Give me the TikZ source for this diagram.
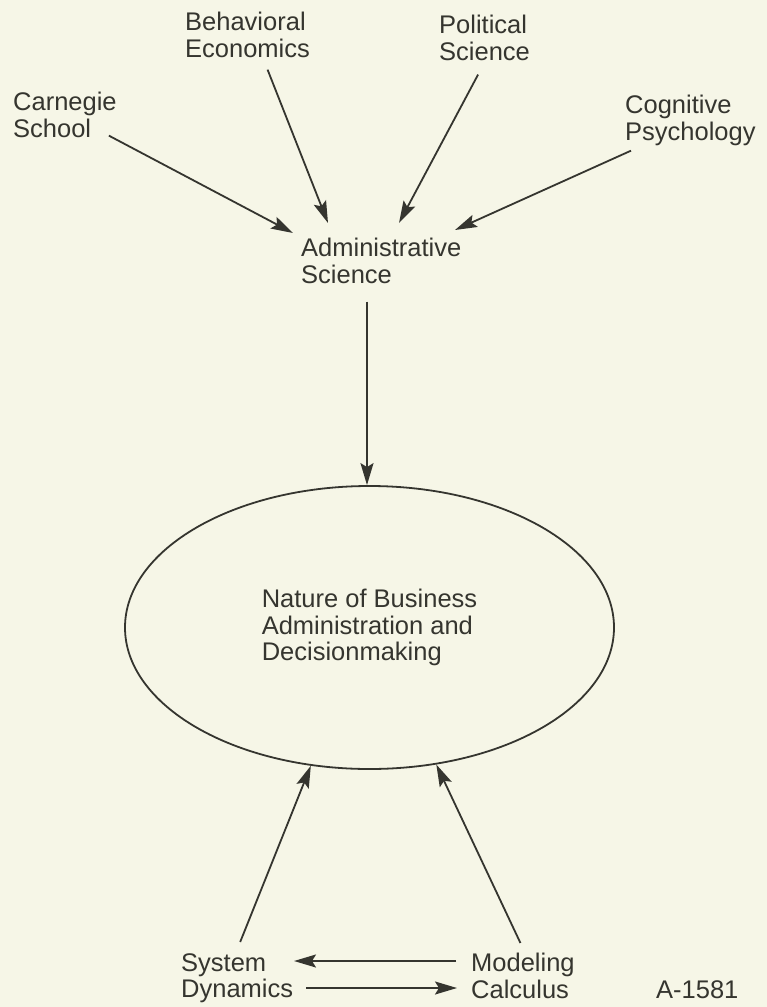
\documentclass[tikz,border=0pt]{standalone}
\usepackage{fontspec}
\setmainfont{Liberation Sans}
\usepackage{xcolor}
\definecolor{inkDark}{HTML}{35352F}
\definecolor{paperBg}{HTML}{F6F6E7}
\usepackage{tikz}
\usetikzlibrary{shapes.geometric,arrows.meta,calc}
\tikzset{%
  fieldLabel/.style={%
    anchor=north west,
    inner sep=0pt,
    align=left,
    text=inkDark,
    font=\fontsize{25.5}{26.5}\selectfont
  },
  arrowLine/.style={%
    -{Stealth[length=22pt,width=13pt,inset=4pt]},
    line width=1.8pt,
    color=inkDark
  },
  centralEllipse/.style={%
    ellipse,
    draw=inkDark,
    line width=1.8pt,
    minimum width=489pt,
    minimum height=283pt,
    inner sep=0pt,
    align=left,
    text=inkDark,
    font=\fontsize{25.5}{26.5}\selectfont
  }
}

\begin{document}
\begin{tikzpicture}[x=1pt,y=-1pt]
  \fill[paperBg] (0,0) rectangle (767,1007);
  \useasboundingbox (0,0) rectangle (767,1007);

  % source fields
  \node[fieldLabel] (carnegie) at (13,92) {Carnegie\\School};
  \node[fieldLabel] (behavioral) at (185,12) {Behavioral\\Economics};
  \node[fieldLabel] (political) at (439,15) {Political\\Science};
  \node[fieldLabel] (cognitive) at (625,95) {Cognitive\\Psychology};
  \node[fieldLabel] (admin) at (301,238) {Administrative\\Science};

  \node[centralEllipse] (nature) at (369.5,627.5) {Nature of Business\\Administration and\\Decisionmaking};

  \node[fieldLabel] (system) at (181,953) {System\\Dynamics};
  \node[fieldLabel] (modeling) at (471,953) {Modeling\\Calculus};
  \node[fieldLabel] (figId) at (656,980) {A-1581};

  % into administrative science
  \draw[arrowLine] ($(carnegie.south east)+(-8,-2)$) -- ($(admin.north west)+(-8,-5)$);
  \draw[arrowLine] ($(behavioral.south)+(20,12)$) -- ($(admin.north west)+(27,-15)$);
  \draw[arrowLine] ($(political.south)+(-6.5,14)$) -- ($(admin.north west)+(98,-15)$);
  \draw[arrowLine] ($(cognitive.south west)+(6,5)$) -- ($(admin.north west)+(154,-8)$);

  % into the ellipse
  \draw[arrowLine] ($(admin.south west)+(66,18)$) coordinate (adminOut) -- (adminOut |- nature.north);
  \draw[arrowLine] ($(system.north)+(3,-11)$) -- (nature.247.7);
  \draw[arrowLine] ($(modeling.north)+(-2.5,-10)$) -- (nature.296);

  % between the two methods
  \draw[arrowLine] ($(modeling.north west)+(-15,8)$) -- ($(system.north west)+(113,8)$);
  \draw[arrowLine] ($(system.north west)+(125,35)$) -- ($(modeling.north west)+(-14,35)$);
\end{tikzpicture}
\end{document}
